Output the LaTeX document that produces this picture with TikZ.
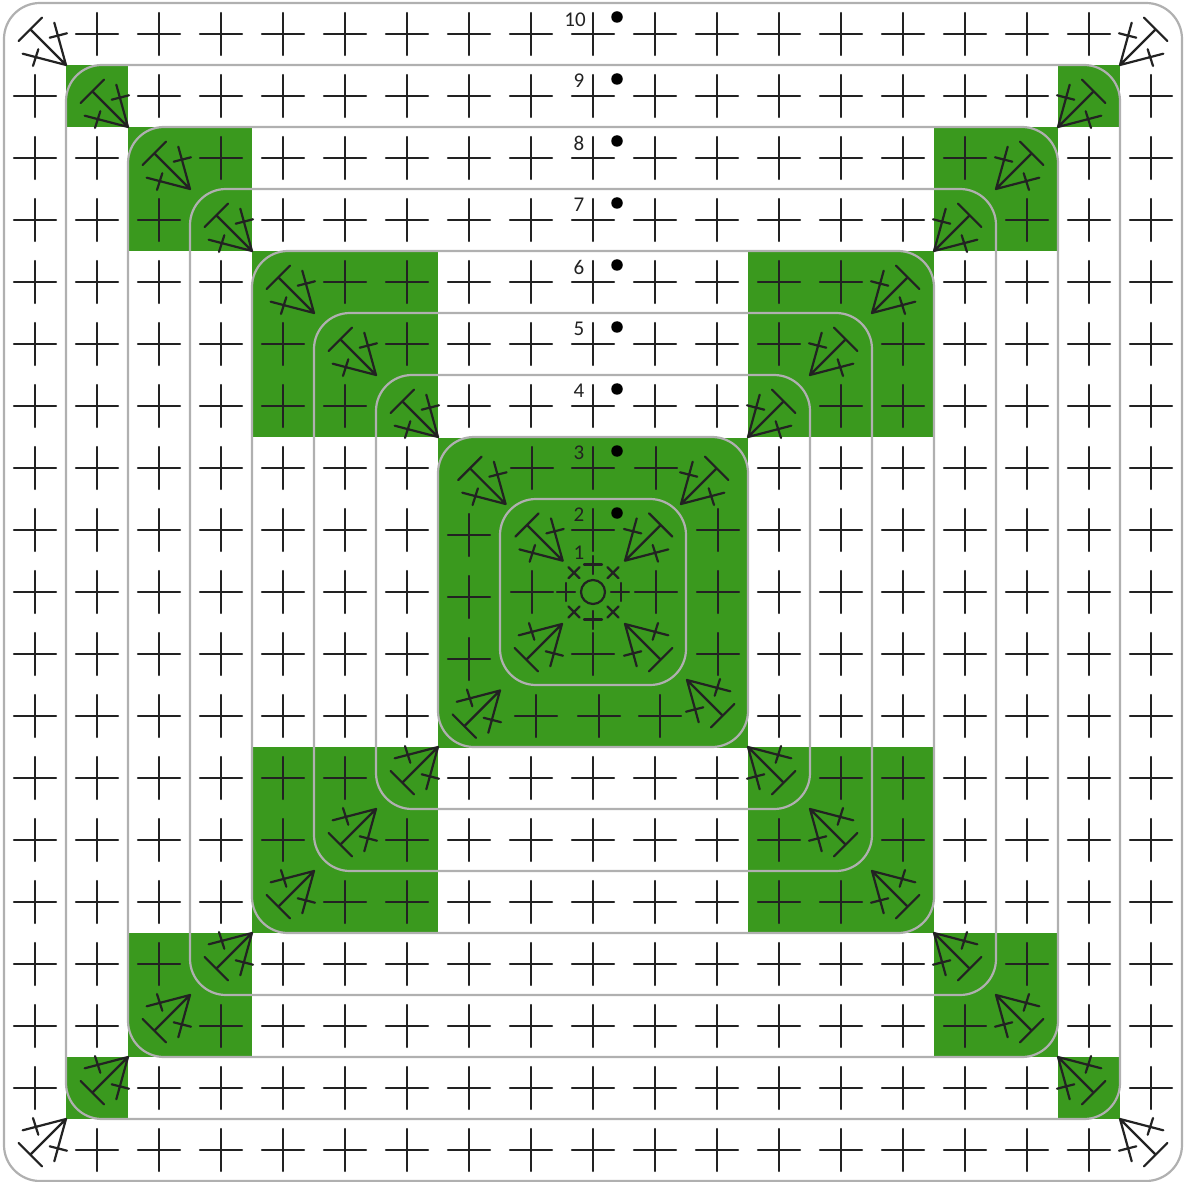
\documentclass[tikz,border=0pt]{standalone}
\usepackage{fontspec}
\setmainfont{Carlito}
\definecolor{gridgreen}{HTML}{3A991E}
\definecolor{ringgrey}{HTML}{B0B0B0}
\definecolor{ink}{HTML}{222222}
\tikzset{
  block/.style={fill=gridgreen,draw=none},
  ring/.style={draw=ringgrey,line width=2.2pt,rounded corners=36pt},
  stitch/.style={draw=ink,line width=2.2pt,line cap=round},
  numlabel/.style={font=\fontsize{21}{21}\selectfont,text=ink,inner sep=0pt},
  rowdot/.style={circle,fill=black,draw=none,inner sep=0pt,minimum size=11.5pt}
}
\newcommand{\crs}[2]{\draw[stitch,shift={(#1,#2)}] (-21,0)--(21,0) (0,-21)--(0,21);}
\newcommand{\clus}[4]{\draw[stitch,shift={(#1,#2)},xscale=#3,yscale=#4]
  (0,0)--(-35.7,-35.7) (-47.4,-24)--(-24,-47.4)
  (0,0)--(-11.7,-42.3) (-16.3,-27.3)--(1,-31.7)
  (0,0)--(-43.3,-11.3) (-33,1)--(-27.7,-15.7);}
\begin{document}
\begin{tikzpicture}[x=1pt,y=-1pt]
\useasboundingbox (0,0) rectangle (1184,1182);
\fill[white] (0,0) rectangle (1184,1182);
% green blocks
\fill[block] (438,438) rectangle (748,748);
\foreach \sx in {-1,1}\foreach \sy in {-1,1}{
  \fill[block] ({593+\sx*155},{592+\sy*155}) rectangle ({593+\sx*341},{592+\sy*341});
  \fill[block] ({593+\sx*341},{592+\sy*341}) rectangle ({593+\sx*465},{592+\sy*465});
  \fill[block] ({593+\sx*465},{592+\sy*465}) rectangle ({593+\sx*527},{592+\sy*527});
}
% rings
\foreach \h in {93,155,217,279,341,403,465,527,589}
  \draw[ring] ({593-\h},{592-\h}) rectangle ({593+\h},{592+\h});
% crosses of rows 3 to 10 and their corner clusters
\foreach \n in {3,...,9}{
  \pgfmathtruncatemacro\m{\n-1}
  \foreach \i in {-\m,...,\m}{
    \crs{{593+62*\i}}{{592-62*\n}}
    \crs{{593+62*\i}}{{592+62*\n}}
    \crs{{593-62*\n}}{{592+62*\i}}
    \crs{{593+62*\n}}{{592+62*\i}}
  }
  \pgfmathsetmacro\hh{62*\n-31}
  \clus{{593-\hh}}{{592-\hh}}{1}{1}
  \clus{{593+\hh}}{{592-\hh}}{-1}{1}
  \clus{{593-\hh}}{{592+\hh}}{1}{-1}
  \clus{{593+\hh}}{{592+\hh}}{-1}{-1}
}
% row 3
\crs{532}{468}\crs{593}{468}\crs{656}{468}
\crs{469}{535}\crs{469}{597}\crs{469}{659}
\crs{536}{716}\crs{599}{716}\crs{660}{716}
\crs{718}{530}\crs{718}{592}\crs{718}{654}
\clus{505.6}{504}{1}{1}
\clus{681}{504}{-1}{1}
\clus{500}{690.5}{1}{-1}
\clus{687}{680}{-1}{-1}
% row 2
\crs{593}{530}\crs{532}{592}\crs{656}{592}\crs{593}{654}
\clus{562.7}{560.7}{1}{1}
\clus{625}{560.7}{-1}{1}
\clus{562}{624}{1}{-1}
\clus{625}{624}{-1}{-1}
% centre
\draw[stitch] (593,592) circle (12);
\draw[stitch] (584,564.5)--(602,564.5) (593,556)--(593,574);
\draw[stitch] (584,619.5)--(602,619.5) (593,611)--(593,629);
\draw[stitch] (557,592)--(575,592) (566,583)--(566,601);
\draw[stitch] (611,592)--(629,592) (621,583)--(621,601);
\foreach \px/\py in {574/572.7,613/572.7,574/612,613/612}
  \draw[stitch,shift={(\px,\py)}] (-5.5,-5.5)--(5.5,5.5) (-5.5,5.5)--(5.5,-5.5);
% labels and dots
\node[numlabel] (l10) at (575,19.5) {10};
\node[numlabel] (l9) at (579,81) {9};
\node[numlabel] (l8) at (579,143) {8};
\node[numlabel] (l7) at (579,205) {7};
\node[numlabel] (l6) at (579,267) {6};
\node[numlabel] (l5) at (579,329) {5};
\node[numlabel] (l4) at (579,391) {4};
\node[numlabel] (l3) at (579,453) {3};
\node[numlabel] (l2) at (579,515) {2};
\node[numlabel] (l1) at (579,553) {1};
\foreach \k/\dy in {10/17,9/79,8/141,7/203,6/265,5/327,4/389,3/451,2/513}
  \node[rowdot] (d\k) at (617,\dy) {};
\end{tikzpicture}
\end{document}
